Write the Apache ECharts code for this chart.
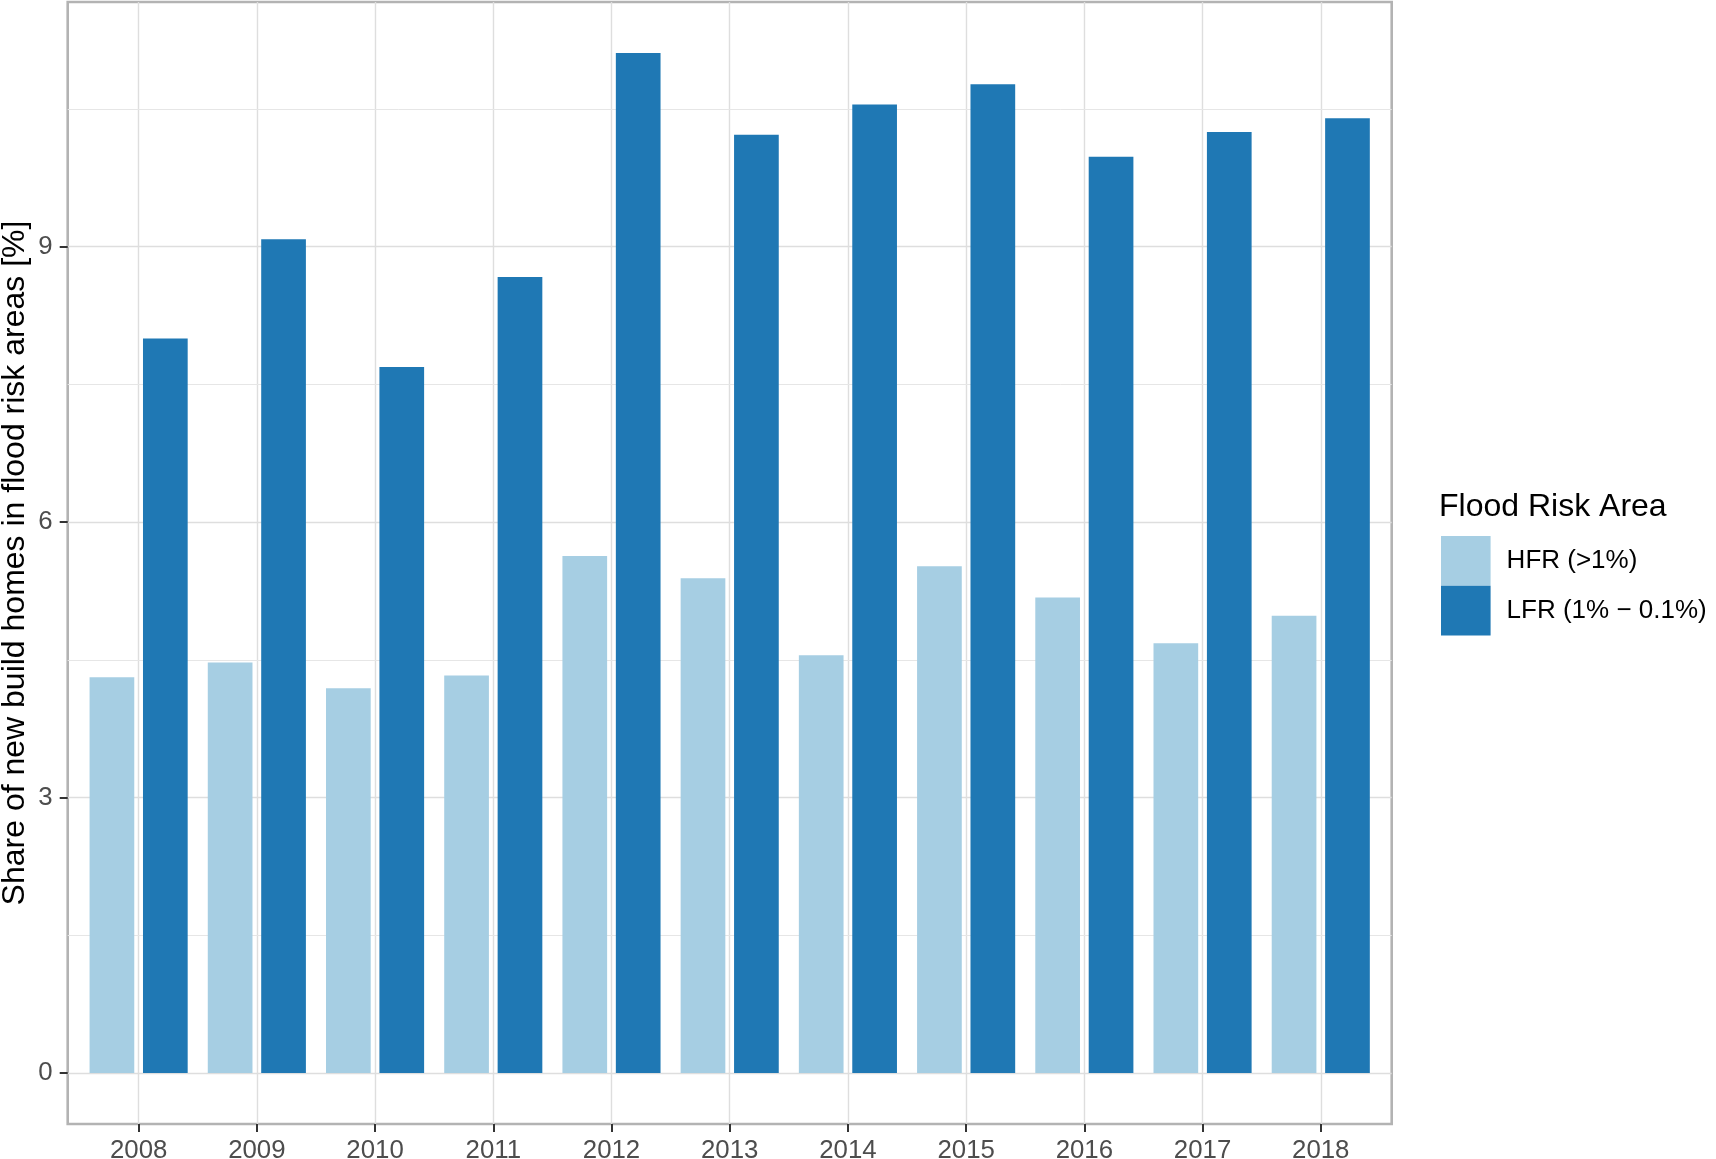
<!DOCTYPE html>
<html>
<head>
<meta charset="utf-8">
<script src="https://cdn.jsdelivr.net/npm/echarts@6/dist/echarts.min.js"></script>
<style>
html,body{margin:0;padding:0;background:#ffffff;}
#c{width:1716px;height:1159px;}
</style>
</head>
<body>
<div id="c"></div>
<script>
// ---- data ----
const years = [2008, 2009, 2010, 2011, 2012, 2013, 2014, 2015, 2016, 2017, 2018];
const hfrValues = [4.31, 4.47, 4.19, 4.33, 5.63, 5.39, 4.55, 5.52, 5.18, 4.68, 4.98];
const lfrValues = [8.00, 9.08, 7.69, 8.67, 11.11, 10.22, 10.55, 10.77, 9.98, 10.25, 10.40];
const yTickValues = [0, 3, 6, 9];
const yMinorValues = [1.5, 4.5, 7.5, 10.5];
const seriesNames = ['HFR (>1%)', 'LFR (1% \u2212 0.1%)'];
const legendTitle = 'Flood Risk Area';
const yAxisTitle = 'Share of new build homes in flood risk areas [%]';
const xRange = [2007.4, 2018.6];
const yRange = [-0.5555, 11.6655];

// ---- chart ----
const FONT = '"Liberation Sans", Arial, Helvetica, sans-serif';
const chart = echarts.init(document.getElementById('c'), null, {renderer: 'canvas'});

const toPairs = (vals) => years.map((y, i) => [y, vals[i]]);

const option = {
  backgroundColor: '#ffffff',
  animation: false,
  textStyle: {fontFamily: FONT},
  grid: {
    left: 67.7, right: 324.3, top: 2, bottom: 35,
    containLabel: false,
    outerBoundsMode: 'none',
    show: true, borderColor: '#B3B3B3', borderWidth: 2.6, backgroundColor: 'transparent'
  },
  title: {
    text: legendTitle,
    left: 1439, top: 491,
    padding: 0,
    textStyle: {fontFamily: FONT, fontSize: 32, fontWeight: 'normal', color: '#000000'}
  },
  legend: {
    orient: 'vertical',
    left: 1441, top: 536,
    padding: 0,
    itemGap: 0,
    itemWidth: 49.6, itemHeight: 49.8,
    icon: 'rect',
    data: seriesNames,
    textStyle: {fontFamily: FONT, fontSize: 26, color: '#000000', padding: [4, 0, 0, 11]}
  },
  xAxis: {
    type: 'value',
    min: xRange[0], max: xRange[1],
    minInterval: 1, maxInterval: 1, splitNumber: 11,
    axisLine: {show: false, onZero: false},
    axisTick: {show: true, length: 8, customValues: years, lineStyle: {color: '#333333', width: 2}},
    axisLabel: {
      customValues: years,
      formatter: (v) => String(v),
      fontFamily: FONT, fontSize: 25.8, color: '#4D4D4D', margin: 14
    },
    splitLine: {show: true, lineStyle: {color: '#DEDEDE', width: 1.4}}
  },
  yAxis: {
    type: 'value',
    min: yRange[0], max: yRange[1],
    minInterval: 3, maxInterval: 3, splitNumber: 4,
    name: yAxisTitle,
    nameLocation: 'middle',
    nameRotate: 90,
    nameGap: 37,
    nameMoveOverlap: false,
    nameTextStyle: {fontFamily: FONT, fontSize: 32, color: '#000000'},
    axisLine: {show: false, onZero: false},
    axisTick: {show: true, length: 8, customValues: yTickValues, lineStyle: {color: '#333333', width: 2}},
    axisLabel: {
      customValues: yTickValues,
      formatter: (v) => String(v),
      fontFamily: FONT, fontSize: 25.8, color: '#4D4D4D', margin: 15
    },
    splitLine: {show: true, lineStyle: {color: '#DEDEDE', width: 1.4}}
  },
  series: [
    {
      name: seriesNames[0],
      type: 'bar',
      data: toPairs(hfrValues),
      barWidth: 44.7,
      barGap: '19.5%',
      itemStyle: {color: '#A6CEE3'},
      markLine: {
        z: 1,
        silent: true,
        symbol: 'none',
        label: {show: false},
        lineStyle: {color: '#E6E6E6', width: 1, type: 'solid'},
        data: yMinorValues.map(v => ({yAxis: v}))
      }
    },
    {
      name: seriesNames[1],
      type: 'bar',
      data: toPairs(lfrValues),
      barWidth: 44.7,
      barGap: '19.5%',
      itemStyle: {color: '#1F78B4'}
    }
  ]
};
chart.setOption(option);
</script>
</body>
</html>
